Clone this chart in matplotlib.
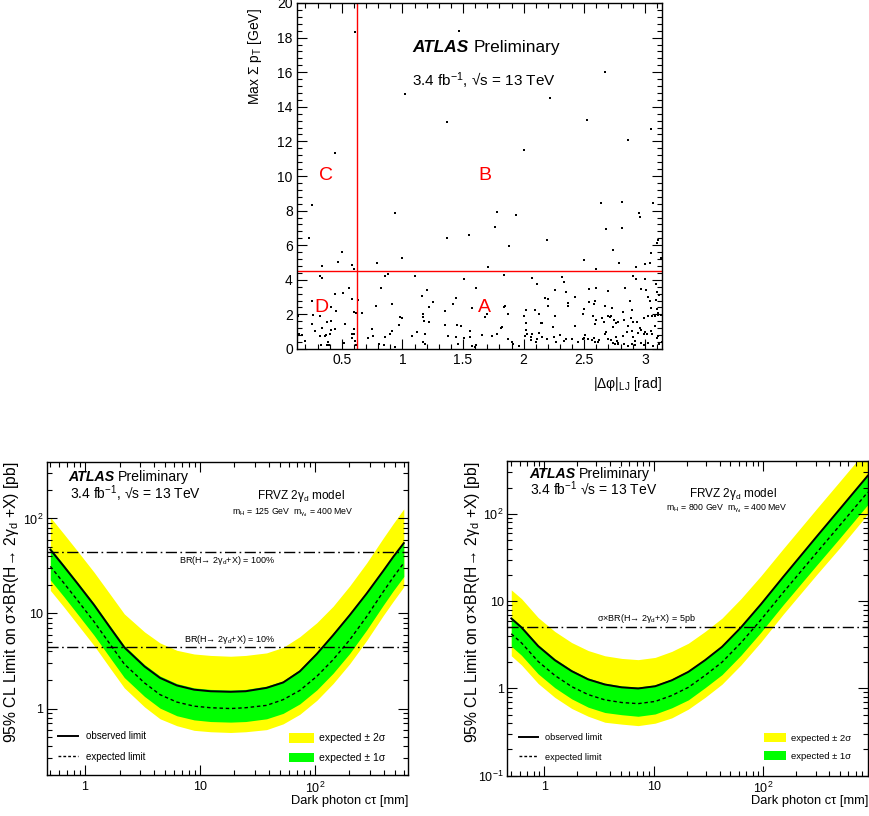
import matplotlib
matplotlib.use("Agg")
import matplotlib.pyplot as plt
from matplotlib.ticker import AutoMinorLocator, FixedLocator, LogLocator, NullFormatter
from matplotlib.patches import Patch
from matplotlib.lines import Line2D

plt.rcParams["font.family"] = ["Liberation Sans", "DejaVu Sans"]
plt.rcParams["mathtext.fontset"] = "custom"
plt.rcParams["mathtext.rm"] = "Liberation Sans"
plt.rcParams["mathtext.it"] = "Liberation Sans"
plt.rcParams["mathtext.bf"] = "Liberation Sans:bold"

# ABCD plane, events: |dphi|_LJ [rad] and max sum pT [GeV]
dphi = [
    0.61, 1.47, 0.44, 1.02, 1.37, 2.22, 2.00, 2.67, 2.52, 2.86, 3.05,
    0.25, 0.23, 0.34, 0.50, 0.47, 0.58, 0.60, 0.94, 1.00, 0.79, 1.37, 1.55,
    1.76, 1.78, 1.94, 1.88, 1.71, 2.19, 2.50, 2.60, 2.64, 2.81, 2.68, 2.81,
    2.74, 2.79, 2.95, 2.96, 3.07, 3.11, 3.10, 3.05, 3.04, 3.00, 2.93, 3.13,
    # below the 4.5 GeV cut, left part
    0.32, 0.34, 0.56, 0.82, 0.86, 0.88, 1.10, 0.51, 0.44, 0.25, 0.58, 0.63,
    1.20, 1.16, 1.25, 0.91, 0.78, 0.41, 0.45, 0.26, 0.32, 0.14, 0.60, 0.62,
    0.67, 0.98, 1.00, 1.17, 1.17, 1.18, 1.22, 1.44, 1.42, 1.35, 1.22, 1.57,
    1.61, 1.51, 0.25, 0.38, 0.41, 0.53, 0.34, 0.41, 0.44, 0.60, 0.60, 0.58,
    0.75, 0.975, 0.91, 1.35, 1.45, 1.48, 1.56, 0.15, 0.17, 0.28, 0.32, 0.36,
    0.37, 0.40, 0.58, 0.715, 0.76, 0.90, 0.856, 1.08, 1.12, 1.19, 1.38, 1.44,
    1.51, 1.56, 0.20, 0.325, 0.375, 0.386, 0.39, 0.516, 0.61, 0.615, 0.81,
    0.845, 0.94, 1.17, 1.19, 1.46, 1.57, 1.61, 1.595,
    # below the cut, right part
    1.835, 2.07, 2.11, 2.32, 2.33, 2.26, 2.35, 2.54, 2.60, 2.70, 2.84, 2.90,
    2.93, 2.97, 3.00, 3.01, 3.09, 3.10, 3.12, 3.03, 3.04, 3.09, 2.42, 2.20,
    2.18, 2.20, 2.37, 2.37, 2.59, 2.58, 2.54, 2.67, 2.73, 2.82, 2.89, 2.88,
    3.05, 3.10, 3.11, 3.13, 1.85, 1.84, 1.87, 2.02, 2.09, 2.00, 2.125, 2.14,
    2.15, 2.26, 2.50, 2.49, 2.57, 2.60, 2.70, 2.71, 2.72, 2.645, 2.66, 2.745,
    2.765, 2.78, 2.83, 2.886, 2.905, 2.936, 2.994, 3.027, 3.055, 3.08, 3.11,
    1.68, 1.70, 1.82, 1.81, 1.78, 1.74, 1.66, 1.87, 1.90, 2.02, 2.02, 2.03,
    2.07, 2.06, 2.01, 2.125, 2.15, 2.19, 2.24, 2.30, 2.35, 2.42, 2.40, 2.45,
    2.50, 2.51, 2.59, 2.665, 2.67, 2.68, 2.74, 2.76, 2.77, 2.78, 2.82, 2.85,
    2.86, 2.89, 2.90, 2.92, 2.94, 2.96, 2.97, 2.99, 3.00, 3.02, 3.05, 3.06,
    3.08, 3.10, 3.11, 3.14, 3.12, 3.07, 3.03, 2.997, 2.97, 2.92, 2.89, 2.86,
    2.83, 2.78, 2.75, 2.72, 2.70, 2.61, 2.565, 2.535, 2.49, 2.45, 2.33, 2.27,
    2.25, 1.655, 1.91, 1.96, 2.06, 2.10, 2.11, 2.58, 2.59, 2.62, 2.74,
]
sumpt = [
    18.35, 18.4, 11.35, 14.75, 13.1, 14.5, 11.5, 16.0, 13.25, 12.1, 12.7,
    8.32, 6.43, 4.80, 5.60, 5.05, 4.86, 4.64, 7.84, 5.24, 4.99, 6.40, 6.61,
    7.03, 7.90, 7.76, 5.95, 4.74, 6.30, 5.16, 4.63, 8.44, 8.50, 6.95, 7.01,
    5.74, 4.96, 7.84, 7.65, 8.42, 6.30, 6.10, 5.57, 5.00, 4.90, 4.76, 5.28,
    4.20, 4.08, 3.55, 3.55, 4.24, 4.34, 4.24, 3.24, 3.18, 2.79, 2.87, 2.85,
    3.39, 3.06, 2.72, 2.62, 2.49, 2.43, 2.20, 1.97, 1.91, 1.91, 2.16, 2.10,
    2.10, 1.85, 1.81, 2.02, 1.83, 1.62, 1.56, 2.93, 2.62, 2.22, 2.43, 2.35,
    3.53, 4.05, 1.43, 1.56, 1.62, 1.43, 1.23, 1.10, 1.18, 1.18, 0.87, 0.87,
    1.18, 1.37, 1.02, 1.37, 1.39, 1.31, 1.06, 0.85, 0.79, 1.06, 0.77, 0.75,
    0.79, 0.89, 0.64, 0.66, 0.75, 0.89, 0.69, 0.77, 1.00, 0.85, 0.77, 0.67,
    0.66, 0.69, 0.46, 0.23, 0.25, 0.40, 0.25, 0.35, 0.48, 0.23, 0.31,
    0.23, 0.13, 0.39, 0.29, 0.27, 0.19, 0.23, 0.13,
    4.28, 4.12, 3.78, 4.16, 3.89, 3.43, 3.31, 3.45, 3.51, 3.37, 3.55, 4.22,
    4.07, 3.49, 4.05, 3.39, 3.76, 3.31, 3.12, 3.01, 2.76, 2.81, 2.99, 2.91,
    2.97, 2.47, 2.66, 2.50, 2.79, 2.60, 2.72, 2.50, 2.35, 2.12, 2.23, 2.76,
    2.35, 2.29, 2.06, 1.97, 2.48, 2.41, 2.00, 2.27, 2.27, 1.91, 2.02, 1.50,
    1.50, 1.89, 2.29, 2.00, 1.91, 1.66, 1.91, 1.85, 1.89, 1.77, 1.58, 1.66,
    1.50, 1.54, 1.66, 1.77, 1.58, 1.58, 1.77, 1.89, 1.93, 1.93, 1.97,
    1.83, 2.00, 1.25, 1.19, 0.87, 0.73, 0.79, 0.58, 0.42, 1.50, 1.12, 0.87,
    0.85, 0.71, 0.77, 0.94, 0.67, 0.58, 1.29, 0.79, 0.56, 1.33, 0.58, 0.42,
    0.62, 0.81, 1.46, 1.54, 0.85, 1.00, 1.27, 0.69, 0.46, 0.27, 0.77, 1.00,
    1.35, 1.06, 0.69, 0.46, 0.94, 1.23, 1.08, 0.89, 0.96, 0.85, 1.04, 0.89,
    1.33, 0.66, 0.73, 0.42, 0.29, 0.19, 0.35, 0.23, 0.35, 0.23, 0.27, 0.19,
    0.31, 0.35, 0.27, 0.54, 0.58, 0.42, 0.50, 0.58, 0.58, 0.42, 0.46, 0.39,
    0.67, 0.81, 0.27, 0.19, 0.54, 0.39, 0.58, 0.62, 0.39, 0.50, 0.35,
]
dphi_cut = 0.628
sumpt_cut = 4.5

# limits for mH = 125 GeV, m_gd = 400 MeV  [pb] vs ctau [mm]
ct125 = [0.5, 0.66, 0.86, 1.2, 1.67, 2.2, 3.3, 4.5, 6.3, 8.9, 12.4, 18.5, 25, 38, 53, 74, 104, 144, 201, 282, 393, 480, 594]
obs125 = [47, 31, 20.7, 12.3, 7.0, 4.4, 2.77, 2.10, 1.75, 1.58, 1.52, 1.50, 1.52, 1.65, 1.88, 2.46, 3.75, 5.9, 9.6, 16.2, 28, 39.3, 55]
exp125 = [31.3, 20.7, 13.8, 8.2, 4.68, 2.94, 1.86, 1.40, 1.17, 1.06, 1.02, 1.00, 1.02, 1.08, 1.24, 1.55, 2.18, 3.26, 5.28, 9.26, 16.9, 24, 34]
exp125_m1 = [22.5, 14.9, 9.9, 5.9, 3.37, 2.12, 1.34, 1.01, 0.84, 0.76, 0.73, 0.72, 0.73, 0.78, 0.89, 1.12, 1.57, 2.35, 3.8, 6.7, 12.2, 17.3, 24.5]
exp125_p1 = [49, 32.3, 21.5, 12.8, 7.3, 4.6, 2.9, 2.2, 1.83, 1.65, 1.59, 1.57, 1.59, 1.72, 1.96, 2.58, 3.95, 6.2, 10.1, 16.9, 29.3, 41, 57]
exp125_m2 = [17.5, 11.6, 7.7, 4.6, 2.62, 1.65, 1.04, 0.78, 0.66, 0.59, 0.57, 0.56, 0.57, 0.60, 0.69, 0.87, 1.22, 1.83, 2.96, 5.2, 9.5, 13.4, 19.1]
exp125_p2 = [103, 68, 45.5, 27.2, 15.7, 9.9, 6.4, 4.9, 4.1, 3.75, 3.62, 3.55, 3.62, 3.85, 4.4, 5.7, 8.0, 11.9, 19.5, 34, 62, 88, 126]
br100 = 44.1
br10 = 4.41

# limits for mH = 800 GeV
ct800 = [0.5, 0.62, 0.88, 1.25, 1.78, 2.52, 3.58, 5.1, 7.2, 10.3, 14.6, 20.7, 29.4, 42, 62.5, 95, 152, 307, 500, 900]
obs800 = [6.35, 5.0, 3.06, 2.11, 1.58, 1.27, 1.11, 1.03, 1.0, 1.06, 1.24, 1.55, 2.11, 3.0, 5.0, 9.2, 19, 55, 114, 275]
exp800 = [4.23, 3.33, 2.04, 1.41, 1.05, 0.85, 0.74, 0.69, 0.67, 0.71, 0.83, 1.03, 1.41, 2.0, 3.33, 6.1, 12.6, 36, 74, 178]
exp800_m1 = [3.05, 2.40, 1.47, 1.02, 0.76, 0.61, 0.53, 0.50, 0.48, 0.51, 0.60, 0.74, 1.02, 1.44, 2.40, 4.4, 9.1, 25.9, 53, 128]
exp800_p1 = [6.6, 5.2, 3.18, 2.2, 1.64, 1.32, 1.15, 1.07, 1.04, 1.10, 1.29, 1.61, 2.19, 3.12, 5.2, 9.6, 19.8, 57, 119, 286]
exp800_m2 = [2.37, 1.86, 1.14, 0.79, 0.59, 0.48, 0.41, 0.39, 0.375, 0.40, 0.46, 0.58, 0.79, 1.12, 1.86, 3.4, 7.1, 20.2, 41, 100]
exp800_p2 = [13.5, 10.7, 6.5, 4.5, 3.36, 2.72, 2.37, 2.21, 2.14, 2.27, 2.66, 3.3, 4.5, 6.4, 10.7, 19.5, 40, 115, 237, 570]
xs5pb = 5.0

W, H = 870, 816
fig = plt.figure(figsize=(W / 100, H / 100), dpi=100)


def px(x, y):
    # figure pixel -> figure fraction
    return x / W, 1 - y / H


def atlas(x, y, size, gap):
    t = fig.text(*px(x, y), "ATLAS", fontsize=size, weight="bold", style="italic", va="baseline")
    fig.canvas.draw()
    bb = t.get_window_extent()
    fig.text(*px(bb.x1 + gap, y), "Preliminary", fontsize=size, va="baseline")


def style_axes(ax, maj=7, mino=3.5):
    ax.tick_params(which="both", direction="in", top=True, right=True, width=0.8)
    ax.tick_params(which="major", length=maj)
    ax.tick_params(which="minor", length=mino)
    for s in ax.spines.values():
        s.set_linewidth(1.0)


# ---------------- top: ABCD plane ----------------
ax = fig.add_axes([297 / W, 1 - 349 / H, 365 / W, 346 / H])
ax.scatter(dphi, sumpt, s=3.0, c="k", marker="s", linewidths=0)
ax.axvline(dphi_cut, color="red", lw=1.0)
ax.axhline(sumpt_cut, color="red", lw=1.0)
ax.set_xlim(0.13, 3.1416)
ax.set_ylim(0, 20)
ax.xaxis.set_major_locator(FixedLocator([0.5, 1, 1.5, 2, 2.5, 3]))
ax.set_xticklabels(["0.5", "1", "1.5", "2", "2.5", "3"])
ax.yaxis.set_major_locator(FixedLocator(list(range(0, 21, 2))))
ax.xaxis.set_minor_locator(AutoMinorLocator(5))
ax.yaxis.set_minor_locator(AutoMinorLocator(5))
style_axes(ax, 7.5, 3.8)
ax.tick_params(labelsize=10, pad=3)
ax.set_ylabel("Max Σ p$_{\\mathrm{T}}$ [GeV]", fontsize=10, loc="top")
ax.yaxis.set_label_coords(-0.09, 0.985)
ax.set_xlabel("|Δφ|$_{\\mathrm{LJ}}$ [rad]", fontsize=10, loc="right")
ax.xaxis.set_label_coords(1.0, -0.075)
for lab, x, y in [("C", 0.37, 10.0), ("B", 1.68, 10.0), ("D", 0.33, 2.37), ("A", 1.68, 2.37)]:
    ax.text(x, y, lab, color="red", fontsize=14, ha="center", va="center")
atlas(412, 51.7, 12.4, 5)
fig.text(*px(412, 86), "3.4 fb$^{-1}$, √s = 13 TeV", fontsize=11, va="baseline")


# ---------------- bottom: limit plots ----------------
def limit_panel(rect, ct, obs, exp, m1, p1, m2, p2, xlim, ylim, yticks, ylabels, leg):
    a = fig.add_axes(rect)
    a.set_xscale("log")
    a.set_yscale("log")
    a.fill_between(ct, m2, p2, color="#ffff00", lw=0)
    a.fill_between(ct, m1, p1, color="#00ff00", lw=0)
    a.plot(ct, exp, color="k", lw=1.0, ls=(0, (2.5, 2)))
    a.plot(ct, obs, color="k", lw=1.4)
    a.set_xlim(*xlim)
    a.set_ylim(*ylim)
    a.xaxis.set_major_locator(FixedLocator([1, 10, 100]))
    a.set_xticklabels(["1", "10", "10$^{2}$"])
    a.yaxis.set_major_locator(FixedLocator(yticks))
    a.set_yticklabels(ylabels)
    a.xaxis.set_minor_locator(LogLocator(base=10, subs=range(2, 10)))
    a.yaxis.set_minor_locator(LogLocator(base=10, subs=range(2, 10)))
    a.xaxis.set_minor_formatter(NullFormatter())
    a.yaxis.set_minor_formatter(NullFormatter())
    style_axes(a, 7, 3.5)
    a.tick_params(axis="x", labelsize=9, pad=4)
    a.tick_params(axis="y", labelsize=9, pad=2.5)
    a.set_xlabel("Dark photon cτ [mm]", fontsize=9.3, loc="right")
    a.set_ylabel("95% CL Limit on σ×BR(H→ 2γ$_{\\mathrm{d}}$ +X) [pb]", fontsize=11.3, loc="top")
    lines = [Line2D([], [], color="k", lw=1.4), Line2D([], [], color="k", lw=1.0, ls=(0, (2, 1.5)))]
    l1 = a.legend(lines, ["observed limit", "expected limit"], loc="lower left",
                  bbox_to_anchor=leg[0], borderpad=0, borderaxespad=0, frameon=False,
                  fontsize=leg[2], handlelength=2.1, handletextpad=0.8, labelspacing=1.1)
    a.add_artist(l1)
    patches = [Patch(color="#ffff00", lw=0), Patch(color="#00ff00", lw=0)]
    a.legend(patches, ["expected ± 2σ", "expected ± 1σ"], loc="lower left",
             bbox_to_anchor=leg[1], borderpad=0, borderaxespad=0, frameon=False,
             fontsize=leg[3], handlelength=2.4, handleheight=1.0, handletextpad=0.5, labelspacing=0.9)
    return a


ax1 = limit_panel([46.7 / W, 1 - 775 / H, 361.6 / W, 313.3 / H], ct125, obs125, exp125,
                  exp125_m1, exp125_p1, exp125_m2, exp125_p2, (0.465, 650), (0.2, 395),
                  [1, 10, 100], ["1", "10", "10$^{2}$"],
                  ((0.03, 0.042), (0.67, 0.038), 7, 7.5))
ax1.axhline(br100, color="k", lw=1.0, ls=(0, (8, 2.5, 1.2, 2.5)))
ax1.axhline(br10, color="k", lw=1.0, ls=(0, (8, 2.5, 1.2, 2.5)))
ax1.yaxis.set_label_coords(-0.07, 1.0)
ax1.xaxis.set_label_coords(1.0, -0.064)
fig.text(*px(227, 563.3), "BR(H→ 2γ$_{\\mathrm{d}}$+X) = 100%", fontsize=6.5, ha="center", va="baseline")
fig.text(*px(230, 641.7), "BR(H→ 2γ$_{\\mathrm{d}}$+X) = 10%", fontsize=6.5, ha="center", va="baseline")
atlas(68, 481, 10.2, 4)
fig.text(*px(70, 498.5), "3.4 fb$^{-1}$, √s = 13 TeV", fontsize=10, va="baseline")
fig.text(*px(257, 499.3), "FRVZ 2γ$_{\\mathrm{d}}$ model", fontsize=8.5, va="baseline")
fig.text(*px(232, 514), "m$_{\\mathrm{H}}$ = 125 GeV  m$_{\\gamma_{\\mathrm{d}}}$ = 400 MeV", fontsize=6.3, va="baseline")

ax2 = limit_panel([507.3 / W, 1 - 775.7 / H, 361 / W, 314.7 / H], ct800, obs800, exp800,
                  exp800_m1, exp800_p1, exp800_m2, exp800_p2, (0.46, 910), (0.1, 405),
                  [0.1, 1, 10, 100], ["10$^{-1}$", "1", "10", "10$^{2}$"],
                  ((0.032, 0.045), (0.71, 0.048), 6.6, 6.8))
ax2.axhline(xs5pb, color="k", lw=1.0, ls=(0, (8, 2.5, 1.2, 2.5)))
ax2.yaxis.set_label_coords(-0.07, 1.0)
ax2.xaxis.set_label_coords(1.0, -0.061)
fig.text(*px(597, 620.7), "σ×BR(H→ 2γ$_{\\mathrm{d}}$+X) = 5pb", fontsize=6.5, va="baseline")
atlas(529, 477.7, 10.2, 4)
fig.text(*px(530, 495), "3.4 fb$^{-1}$ √s = 13 TeV", fontsize=10, va="baseline")
fig.text(*px(689, 496.7), "FRVZ 2γ$_{\\mathrm{d}}$ model", fontsize=8.5, va="baseline")
fig.text(*px(666, 510), "m$_{\\mathrm{H}}$ = 800 GeV  m$_{\\gamma_{\\mathrm{d}}}$ = 400 MeV", fontsize=6.3, va="baseline")

fig.savefig("out.png", dpi=100)
